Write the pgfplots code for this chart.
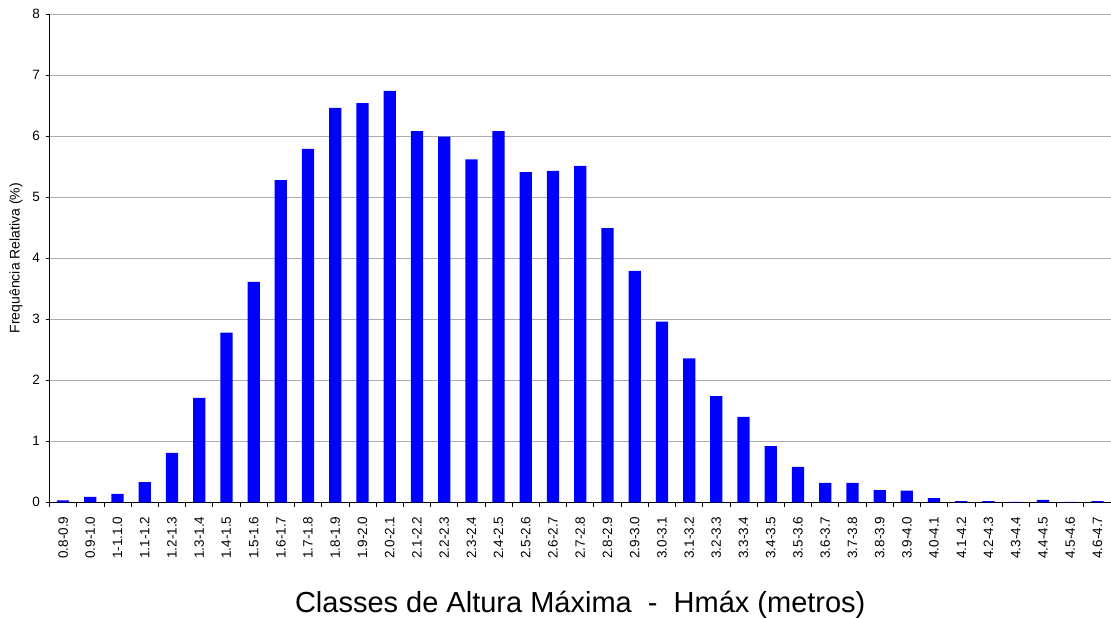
\documentclass[border=0pt]{standalone}
\usepackage{fontspec}
\setmainfont{Liberation Sans}
\usepackage{pgfplots}
\pgfplotsset{compat=1.18}
\begin{document}
\begin{tikzpicture}
\begin{axis}[
  name=ax,
  at={(0,0)}, anchor=south west,
  scale only axis,
  width=1061.5pt, height=488.3pt,
  xmin=-0.5, xmax=38.5,
  ymin=0, ymax=8,
  ytick={0,1,2,3,4,5,6,7,8},
  axis x line*=bottom, axis y line*=left,
  axis line style={black, line width=1pt, -},
  ymajorgrids,
  grid style={gray!65, line width=0.9pt},
  tick align=outside,
  major tick length=4pt,
  minor tick length=5pt,
  xtick={0,...,38},
  major x tick style={draw=none},
  minor xtick={-0.5,0.5,1.5,2.5,3.5,4.5,5.5,6.5,7.5,8.5,9.5,10.5,11.5,12.5,13.5,14.5,15.5,16.5,17.5,18.5,19.5,20.5,21.5,22.5,23.5,24.5,25.5,26.5,27.5,28.5,29.5,30.5,31.5,32.5,33.5,34.5,35.5,36.5,37.5,38.5},
  minor x tick style={black, line width=0.8pt},
  ytick style={black, line width=0.8pt},
  xticklabels={0.8-0.9,0.9-1.0,1-1.1.0,1.1-1.2,1.2-1.3,1.3-1.4,1.4-1.5,1.5-1.6,1.6-1.7,1.7-1.8,1.8-1.9,1.9-2.0,2.0-2.1,2.1-2.2,2.2-2.3,2.3-2.4,2.4-2.5,2.5-2.6,2.6-2.7,2.7-2.8,2.8-2.9,2.9-3.0,3.0-3.1,3.1-3.2,3.2-3.3,3.3-3.4,3.4-3.5,3.5-3.6,3.6-3.7,3.7-3.8,3.8-3.9,3.9-4.0,4.0-4.1,4.1-4.2,4.2-4.3,4.3-4.4,4.4-4.5,4.5-4.6,4.6-4.7},
  xticklabel style={yshift=-10pt, rotate=90, anchor=east, font=\fontsize{13.5}{15}\selectfont, inner sep=0pt},
  yticklabel style={font=\fontsize{13.5}{15}\selectfont, inner sep=0pt, xshift=-5.5pt},
  /pgf/number format/assume math mode=true,
  every axis y label/.style={at={(axis description cs:0,0.5)}, xshift=-33.5pt, rotate=90, anchor=center, font=\fontsize{14}{16}\selectfont},
  every axis x label/.style={at={(axis description cs:0.5,0)}, anchor=base, yshift=-110.5pt, font=\fontsize{29}{32}\selectfont},
  ylabel={Frequência Relativa (\%)},
  xlabel={Classes de Altura Máxima \ - \ Hmáx (metros)},
]
\addplot[ybar, bar width=0.45, fill=blue, draw=none] coordinates {
(0,0.03) (1,0.09) (2,0.14) (3,0.33) (4,0.81) (5,1.71) (6,2.78) (7,3.61)
(8,5.28) (9,5.79) (10,6.46) (11,6.54) (12,6.74) (13,6.08) (14,5.99)
(15,5.62) (16,6.08) (17,5.41) (18,5.43) (19,5.51) (20,4.49) (21,3.79)
(22,2.96) (23,2.36) (24,1.74) (25,1.40) (26,0.92) (27,0.58) (28,0.32)
(29,0.32) (30,0.20) (31,0.19) (32,0.07) (33,0.02) (34,0.02) (35,0.006)
(36,0.04) (37,0.006) (38,0.02)
};
\end{axis}
\pgfresetboundingbox
\path[use as bounding box] ([shift={(-49.5pt,-114.7pt)}]ax.south west) rectangle ([shift={(0pt,14pt)}]ax.north east);
\end{tikzpicture}
\end{document}
